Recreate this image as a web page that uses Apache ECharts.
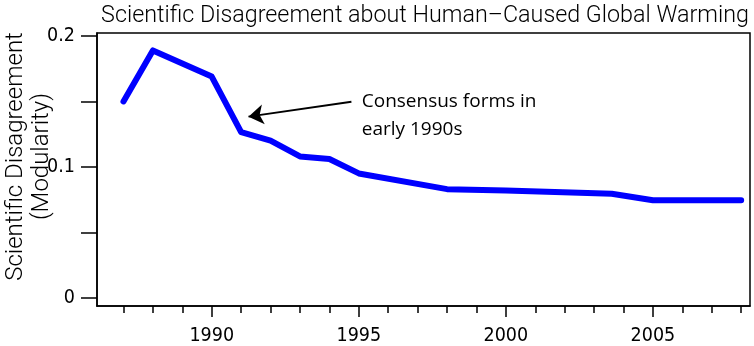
<!DOCTYPE html>
<html>
<head>
<meta charset="utf-8">
<script src="https://cdn.jsdelivr.net/npm/echarts@6/dist/echarts.min.js"></script>
<style>
html,body{margin:0;padding:0;background:#fff;}
#chart{width:754px;height:346px;}
</style>
</head>
<body>
<div id="chart"></div>
<script>
// Data
var years = [1987, 1988, 1990, 1991, 1992, 1993, 1994, 1995, 1998, 2000, 2003.6, 2005, 2008];
var modularity = [0.150, 0.189, 0.169, 0.1265, 0.120, 0.108, 0.106, 0.095, 0.083, 0.082, 0.0795, 0.0745, 0.0745];
var xMajorTicks = [1990, 1995, 2000, 2005];
var xMinorTicks = [1987,1988,1989,1990,1991,1992,1993,1994,1995,1996,1997,1998,1999,2000,2001,2002,2003,2004,2005,2006,2007,2008];
var yTicks = [0, 0.05, 0.1, 0.15, 0.2];
var yLabels = [0, 0.1, 0.2];
var titleText = 'Scientific Disagreement about Human\u2013Caused Global Warming';
var yName = 'Scientific Disagreement\n(Modularity)';
var noteText = 'Consensus forms in\nearly 1990s';
var arrowFrom = [1994.75, 0.1498];
var arrowTo = [1991.25, 0.1384];
var notePos = [1995.1, 0.1391];

var seriesData = years.map(function (y, i) { return [y, modularity[i]]; });

var chart = echarts.init(document.getElementById('chart'), null, {renderer: 'canvas'});
var titleFont = 'Roboto';
var tickFont = '"Liberation Sans Narrow", "DejaVu Sans Condensed", Roboto';
var option = {
  animation: false,
  backgroundColor: '#ffffff',
  title: {
    text: titleText,
    left: 420, top: 0, textAlign: 'center',
    textStyle: {fontFamily: titleFont, fontWeight: 300, fontSize: 23.3, color: '#000'}
  },
  grid: {left: 97, right: 4, top: 33, bottom: 40, show: true, borderColor: '#000', borderWidth: 1.5,
    backgroundColor: 'transparent', containLabel: false, outerBoundsMode: 'none'},
  xAxis: [{
    type: 'value', min: 1986.1, max: 2008.3,
    axisLine: {show: true, onZero: false, lineStyle: {color: '#000', width: 1.5}},
    axisTick: {show: true, inside: false, length: 7, customValues: xMinorTicks, lineStyle: {color: '#000', width: 1.5}},
    axisLabel: {show: true, customValues: xMajorTicks, margin: 20, fontFamily: tickFont, fontSize: 19.5, color: '#000',
      formatter: function (v) { return String(Math.round(v)); }},
    splitLine: {show: false}
  }, {
    type: 'value', min: 1986.1, max: 2008.3, position: 'bottom',
    axisLine: {show: false, onZero: false},
    axisTick: {show: true, inside: false, length: 11, customValues: xMajorTicks, lineStyle: {color: '#000', width: 1.5}},
    axisLabel: {show: false},
    splitLine: {show: false}
  }],
  yAxis: {
    type: 'value', min: -0.0063, max: 0.2023,
    name: yName, nameLocation: 'middle', nameGap: 42, nameRotate: 90, nameMoveOverlap: false,
    nameTextStyle: {fontFamily: titleFont, fontWeight: 300, fontSize: 24, color: '#000', lineHeight: 26, padding: [0, 0, 0, 26]},
    axisLine: {show: true, onZero: false, lineStyle: {color: '#000', width: 1.5}},
    axisTick: {show: true, inside: false, length: 16, customValues: yTicks, lineStyle: {color: '#000', width: 1.5}},
    axisLabel: {show: true, customValues: yLabels, margin: 22, fontFamily: tickFont, fontSize: 19.5, color: '#000',
      formatter: function (v) { return v === 0 ? '0' : String(v); }},
    splitLine: {show: false}
  },
  series: [{
    type: 'line',
    data: seriesData,
    symbol: 'none',
    lineStyle: {color: '#0000ff', width: 6, cap: 'round', join: 'round'},
    markLine: {
      silent: true,
      symbol: ['none', 'arrow'],
      symbolSize: 15,
      lineStyle: {color: '#000', width: 2, type: 'solid'},
      label: {show: false},
      data: [[{coord: arrowFrom}, {coord: arrowTo}]]
    },
    markPoint: {
      silent: true,
      symbol: 'circle', symbolSize: 0,
      label: {show: true, position: 'inside', formatter: noteText,
        fontFamily: 'Open Sans', fontSize: 19, color: '#000', lineHeight: 28.5, align: 'left', verticalAlign: 'middle'},
      data: [{coord: notePos}]
    }
  }]
};
chart.setOption(option);
</script>
</body>
</html>
